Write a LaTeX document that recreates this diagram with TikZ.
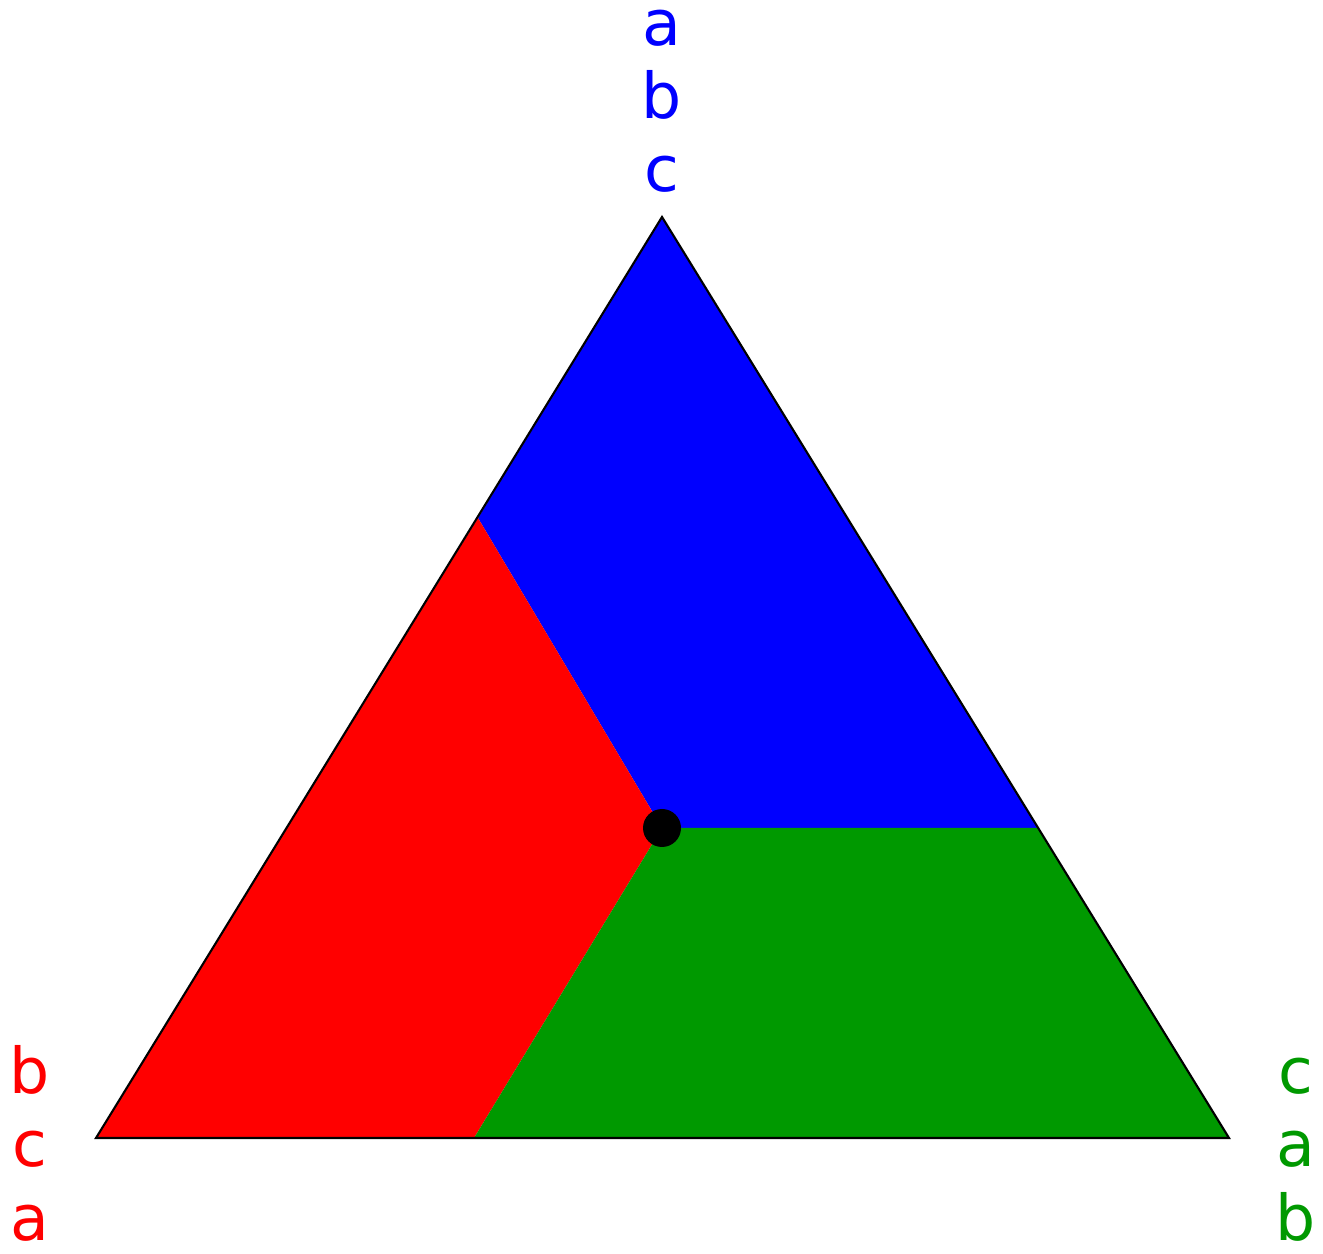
\documentclass[tikz,border=0pt]{standalone}
\usepackage{fontspec}
\setmainfont{DejaVu Sans}
\usepackage{tikz}
\usetikzlibrary{positioning}
\definecolor{regblue}{HTML}{0000FF}
\definecolor{regred}{HTML}{FF0000}
\definecolor{reggreen}{HTML}{009900}

\begin{document}
\begin{tikzpicture}[
  lbl/.style={align=center, inner sep=0pt, anchor=base,
              font=\fontsize{18}{20.8}\selectfont},
  edge/.style={draw=black, line width=0.6pt, line join=miter},
]
  \useasboundingbox (0,0) rectangle (13.23,12.53);

  % corners of the triangle and the split points
  \coordinate (top)   at (6.62,10.36);
  \coordinate (left)  at (0.96,1.15);
  \coordinate (right) at (12.29,1.15);
  \coordinate (mid)   at (6.62,4.25);
  \coordinate (ml)    at (4.78,7.35);
  \coordinate (mr)    at (10.38,4.25);
  \coordinate (mb)    at (4.74,1.15);

  \fill[regblue]  (top) -- (ml) -- (mid) -- (mr) -- cycle;
  \fill[regred]   (left) -- (ml) -- (mid) -- (mb) -- cycle;
  \fill[reggreen] (mb) -- (mid) -- (mr) -- (right) -- cycle;
  \draw[edge] (top) -- (left) -- (right) -- cycle;

  \node[circle, fill=black, inner sep=0pt, minimum size=0.38cm] (dot) at (mid) {};

  \node[lbl, text=regblue]  (toplbl)   at (6.62,10.61) {a\\b\\c};
  \node[lbl, text=regred]   (leftlbl)  at (0.30,0.13)  {b\\c\\a};
  \node[lbl, text=reggreen] (rightlbl) at (12.96,0.13) {c\\a\\b};
\end{tikzpicture}
\end{document}
